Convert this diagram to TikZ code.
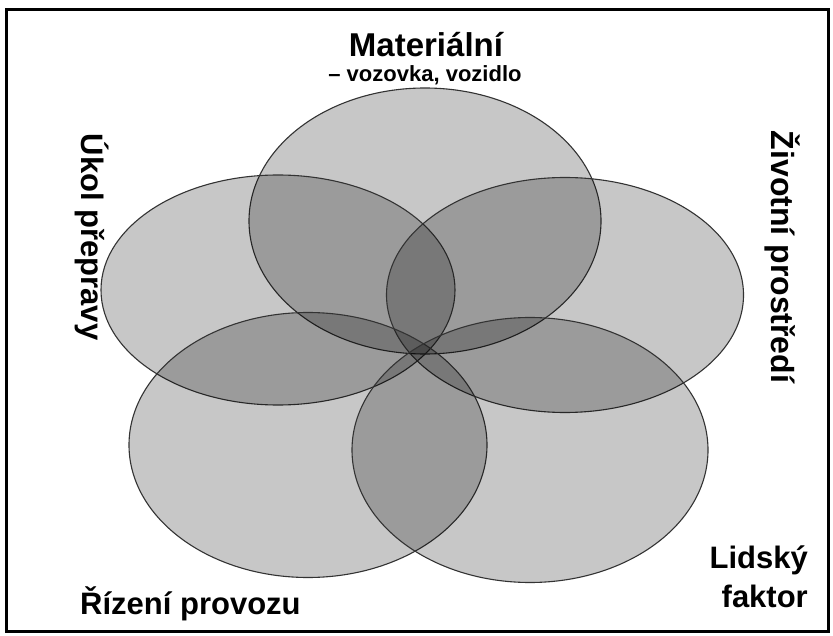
\documentclass[tikz,border=0pt]{standalone}
\usepackage{fontspec}
\setmainfont{Liberation Sans}
\usetikzlibrary{shapes.geometric}
\begin{document}
\begin{tikzpicture}[x=1pt,y=-1pt,
  petal/.style={ellipse, draw=black!80, line width=1.1pt, fill=black, fill opacity=0.22, inner sep=0pt},
  biglabel/.style={font=\bfseries\fontsize{31}{34}\selectfont, inner sep=0pt, text=black},
  toplabel/.style={font=\bfseries\fontsize{33}{36}\selectfont, inner sep=0pt, text=black},
  smalllabel/.style={font=\bfseries\fontsize{22}{26}\selectfont, inner sep=0pt, text=black}]
\useasboundingbox (0,0) rectangle (833,636);
\fill[white] (0,0) rectangle (833,636);
\node[draw=black, line width=2.6pt, minimum width=822pt, minimum height=622pt, inner sep=0pt] (frame) at (417.5,320.5) {};
% ellipses
\node[petal, minimum width=352pt, minimum height=266pt] (mat) at (425,221) {};
\node[petal, minimum width=354pt, minimum height=230pt] (ukol) at (278,290) {};
\node[petal, minimum width=357pt, minimum height=235pt] (zivot) at (565,295) {};
\node[petal, minimum width=358pt, minimum height=265pt] (rizeni) at (308,445) {};
\node[petal, minimum width=356pt, minimum height=265pt] (lidsky) at (530,450) {};
% labels
\node[toplabel, anchor=base] (tmat) at (426,57) {Materiální};
\node[smalllabel, anchor=base] (tmat2) at (425,82) {– vozovka, vozidlo};
\node[biglabel, rotate=-90, anchor=center] (tukol) at (92,237) {Úkol přepravy};
\node[biglabel, font=\bfseries\fontsize{32}{35}\selectfont, rotate=-90, anchor=center] (tziv) at (783,257) {Životní prostředí};
\node[biglabel, anchor=base west] (triz) at (80,614) {Řízení provozu};
\node[biglabel, anchor=base east] (tlid1) at (808,568) {Lidský};
\node[biglabel, anchor=base east] (tlid2) at (808,607) {faktor};
\end{tikzpicture}
\end{document}
